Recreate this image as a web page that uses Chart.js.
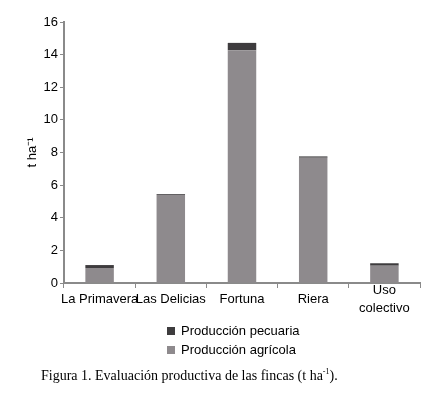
<!DOCTYPE html>
<html>
<head>
<meta charset="utf-8">
<script src="https://cdn.jsdelivr.net/npm/chart.js@4.4.0/dist/chart.umd.min.js"></script>
<style>
  body { margin: 0; background: #fff; width: 440px; height: 393px; position: relative; overflow: hidden; }
  #wrap { position: absolute; left: 0; top: 0; width: 440px; height: 323px; }
  #legend { position: absolute; left: 167px; top: 321px; font: 13px "Liberation Sans", Arial, sans-serif; color: #000; }
  #legend div { height: 19px; line-height: 19px; }
  #legend span { display: inline-block; width: 8px; height: 8px; margin-right: 6px; vertical-align: 0px; }
  #caption { position: absolute; left: 41px; top: 367px; font: 14px "Liberation Serif", "Times New Roman", serif; color: #000; }
  #caption sup { font-size: 8px; }
</style>
</head>
<body>
<div id="wrap"><canvas id="chart"></canvas></div>
<div id="legend"></div>
<div id="caption">Figura 1. Evaluación productiva de las fincas (t ha<sup>-1</sup>).</div>
<script>
// Values (t ha-1)
const categories = ['La Primavera', 'Las Delicias', 'Fortuna', 'Riera', ['Uso', 'colectivo']];
const agricola = [0.92, 5.4, 14.27, 7.68, 1.06];
const pecuaria = [0.18, 0.05, 0.45, 0.08, 0.15];
const yTicks = [0, 2, 4, 6, 8, 10, 12, 14, 16];

const COL_AGRI = '#8e8a8d';
const COL_PEC = '#3e3c3e';
const AXIS = '#8a8a8a';

const datasets = [
  { label: 'Producción agrícola', data: agricola, backgroundColor: COL_AGRI },
  { label: 'Producción pecuaria', data: pecuaria, backgroundColor: COL_PEC },
];

new Chart(document.getElementById('chart'), {
  type: 'bar',
  data: { labels: categories, datasets: datasets.map(ds => ({ ...ds, barPercentage: 0.4, categoryPercentage: 1 })) },
  options: {
    responsive: true, maintainAspectRatio: false, animation: false,
    layout: { padding: { top: 22, right: 20, left: 0, bottom: 0 } },
    plugins: { legend: { display: false }, tooltip: { enabled: false } },
    scales: {
      x: {
        stacked: true,
        afterFit: s => { s.height = 40; },
        border: { color: AXIS, width: 2 },
        grid: { drawOnChartArea: false, color: AXIS, tickLength: 5, offset: true },
        ticks: { color: '#000', font: { family: 'Liberation Sans', size: 13, lineHeight: 1.4 }, padding: 2, maxRotation: 0, autoSkip: false, crossAlign: 'center' },
      },
      y: {
        stacked: true, min: 0, max: 16,
        afterFit: s => { s.width = 64; },
        afterBuildTicks: s => { s.ticks = yTicks.map(v => ({ value: v })); },
        border: { color: AXIS, width: 2 },
        grid: { drawOnChartArea: false, color: AXIS, tickLength: 4 },
        ticks: { color: '#000', font: { family: 'Liberation Sans', size: 13 }, padding: 2 },
        title: { display: true, text: 't ha⁻¹', color: '#000', font: { family: 'Liberation Sans', size: 13 }, padding: { top: 25, bottom: 0 } },
      },
    },
  },
});

// vertical legend, pecuaria listed first as in the figure
document.getElementById('legend').innerHTML = [datasets[1], datasets[0]]
  .map(ds => `<div><span style="background:${ds.backgroundColor}"></span>${ds.label}</div>`).join('');
</script>
</body>
</html>
